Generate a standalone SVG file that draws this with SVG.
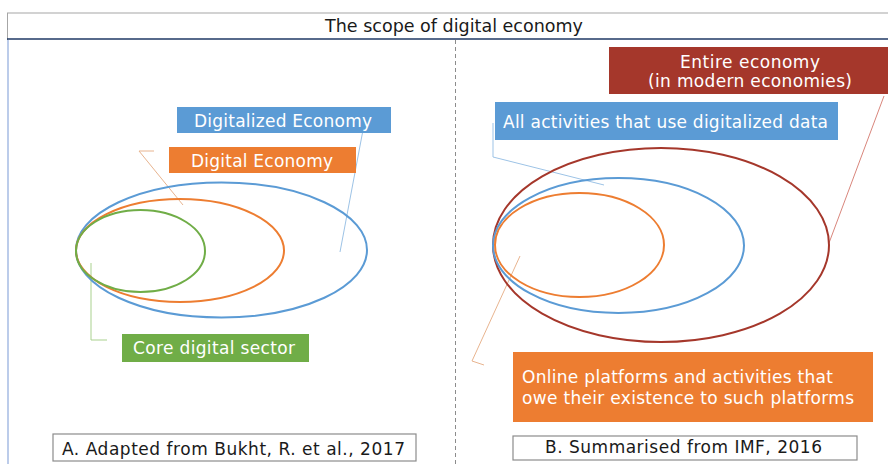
<svg xmlns="http://www.w3.org/2000/svg" width="888" height="464" viewBox="0 0 888 464">
  <style>
    .lbl { font-family: Verdana, "DejaVu Sans", sans-serif; font-size: 17px; fill: #ffffff; }
    .cap { font-family: Verdana, "DejaVu Sans", sans-serif; font-size: 17px; fill: #1a1a1a; }
    .ttl { font-family: Verdana, "DejaVu Sans", sans-serif; font-size: 18px; fill: #1a1a1a; }
    .ring { fill: none; stroke-width: 2; }
    .lead { fill: none; stroke-width: 1; }
    .capbox { fill: #ffffff; stroke: #8c8c8c; stroke-width: 1.2; }
  </style>
  <rect width="888" height="464" fill="#ffffff"/>

  <!-- frame and title row -->
  <g id="frame">
    <line x1="7" y1="13" x2="888" y2="13" stroke="#a6a6a6" stroke-width="1.2"/>
    <line x1="7.5" y1="13" x2="7.5" y2="40" stroke="#a6a6a6" stroke-width="1"/>
    <line x1="7" y1="39" x2="888" y2="39" stroke="#1f3864" stroke-width="1.6"/>
    <line x1="8" y1="40" x2="8" y2="464" stroke="#8faadc" stroke-width="1.2"/>
    <line x1="455.5" y1="40" x2="455.5" y2="464" stroke="#8c8c8c" stroke-width="1" stroke-dasharray="4 3"/>
    <text class="ttl" x="325" y="32" textLength="258" lengthAdjust="spacingAndGlyphs">The scope of digital economy</text>
  </g>

  <!-- leader lines -->
  <g id="connectors">
    <polyline class="lead" stroke="#9dc3e6" points="363,130 340,252"/>
    <polyline class="lead" stroke="#e8b48f" points="154,151 139,151 183,205"/>
    <polyline class="lead" stroke="#a9d18e" points="91,263 91,340 107,340"/>
    <polyline class="lead" stroke="#d9867c" points="884,96 829,243"/>
    <polyline class="lead" stroke="#9dc3e6" points="493,123 493,157 604,185"/>
    <polyline class="lead" stroke="#e8b48f" points="520,256 472,361 484,365"/>
  </g>

  <!-- panel A -->
  <g id="digitalized-economy-ring"><ellipse class="ring" stroke="#5b9bd5" cx="221.5" cy="250" rx="145.5" ry="67.5"/></g>
  <g id="digital-economy-ring"><ellipse class="ring" stroke="#ed7d31" cx="180" cy="250.5" rx="104" ry="51.5"/></g>
  <g id="core-digital-ring"><ellipse class="ring" stroke="#70ad47" cx="140.5" cy="251" rx="64.5" ry="41"/></g>

  <g id="digitalized-economy-label">
    <rect x="177" y="107" width="214" height="26" fill="#5b9bd5"/>
    <text class="lbl" x="194" y="127" textLength="178">Digitalized Economy</text>
  </g>
  <g id="digital-economy-label">
    <rect x="169" y="147" width="187" height="26" fill="#ed7d31"/>
    <text class="lbl" x="191" y="167" textLength="142">Digital Economy</text>
  </g>
  <g id="core-digital-label">
    <rect x="122" y="334" width="187" height="28" fill="#70ad47"/>
    <text class="lbl" x="133" y="354" textLength="162">Core digital sector</text>
  </g>
  <g id="caption-a">
    <rect class="capbox" x="53" y="434" width="363" height="27"/>
    <text class="cap" x="62" y="455" textLength="343">A. Adapted from Bukht, R. et al., 2017</text>
  </g>

  <!-- panel B -->
  <g id="entire-economy-ring"><ellipse class="ring" stroke="#a5372b" cx="661" cy="245" rx="168" ry="97"/></g>
  <g id="digital-data-ring"><ellipse class="ring" stroke="#5b9bd5" cx="618.5" cy="245.5" rx="125.5" ry="67.5"/></g>
  <g id="platforms-ring"><ellipse class="ring" stroke="#ed7d31" cx="579.5" cy="245" rx="84.5" ry="52"/></g>

  <g id="entire-economy-label">
    <rect x="609" y="47" width="285" height="47" fill="#a5372b"/>
    <text class="lbl" x="680" y="68" textLength="140">Entire economy</text>
    <text class="lbl" x="648" y="87" textLength="204">(in modern economies)</text>
  </g>
  <g id="digital-data-label">
    <rect x="495" y="102" width="343" height="38" fill="#5b9bd5"/>
    <text class="lbl" x="503" y="128" textLength="325">All activities that use digitalized data</text>
  </g>
  <g id="platforms-label">
    <rect x="513" y="352" width="360" height="70" fill="#ed7d31"/>
    <text class="lbl" x="522" y="383" textLength="311">Online platforms and activities that</text>
    <text class="lbl" x="522" y="404" textLength="332">owe their existence to such platforms</text>
  </g>
  <g id="caption-b">
    <rect class="capbox" x="513" y="436" width="344" height="24"/>
    <text class="cap" x="545" y="453" textLength="277">B. Summarised from IMF, 2016</text>
  </g>
</svg>
